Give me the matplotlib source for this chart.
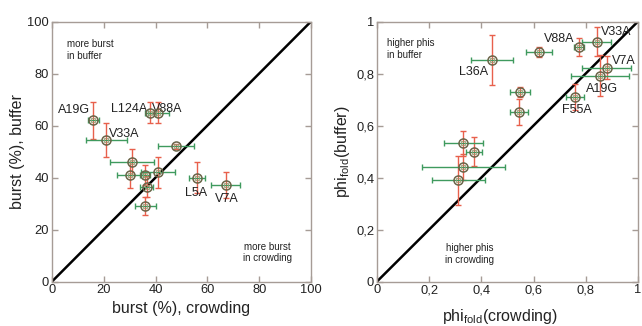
import matplotlib
matplotlib.use("Agg")
import matplotlib.pyplot as plt
import numpy as np

plt.rcParams['font.family'] = ['Liberation Sans', 'DejaVu Sans']
plt.rcParams['mathtext.fontset'] = 'custom'
plt.rcParams['mathtext.rm'] = 'Liberation Sans'
plt.rcParams['mathtext.it'] = 'Liberation Sans'

# ---- Left panel data: burst (%) ----
burst_crowd = [16, 21, 38, 41, 48, 31, 30, 36, 41, 36.5, 36, 56, 67]
burst_crowd_err = [2, 8, 2, 4, 7, 8.5, 5, 2, 6.5, 2.5, 4, 3, 5.5]
burst_buf = [62, 54.5, 65, 65, 52, 46, 41, 41, 42, 36.5, 29, 40, 37]
burst_buf_err = [7, 6.5, 4, 4, 1, 5, 5, 4, 6, 4, 3.5, 6, 5]
burst_labels = ["A19G", "V33A", "L124A", "V88A", "L5A", "V7A"]
burst_label_pos = [(8.5, 66), (28, 56.8), (29.7, 66.3), (44.6, 66.3), (55.8, 34), (67.4, 31.7)]

# ---- Right panel data: phi_fold ----
phi_crowd = [0.44, 0.62, 0.774, 0.842, 0.88, 0.854, 0.759, 0.548, 0.544, 0.331, 0.372, 0.331, 0.312]
phi_crowd_err = [0.08, 0.05, 0.02, 0.055, 0.095, 0.11, 0.035, 0.04, 0.035, 0.075, 0.03, 0.16, 0.1]
phi_buf = [0.852, 0.882, 0.903, 0.922, 0.822, 0.792, 0.71, 0.73, 0.651, 0.532, 0.5, 0.439, 0.389]
phi_buf_err = [0.095, 0.02, 0.035, 0.055, 0.045, 0.08, 0.05, 0.02, 0.05, 0.048, 0.055, 0.05, 0.095]
phi_labels = ["L36A", "V88A", "V33A", "V7A", "A19G", "F55A"]
phi_label_pos = [(0.369, 0.807), (0.699, 0.931), (0.915, 0.961), (0.946, 0.85), (0.864, 0.74), (0.765, 0.66)]

left_ticks = [0, 20, 40, 60, 80, 100]
right_ticks = [0, 0.2, 0.4, 0.6, 0.8, 1.0]
right_ticklabels = ["0", "0,2", "0,4", "0,6", "0,8", "1"]

spine_col = "#a69c96"
red = "#e8604c"
green = "#3f9a5e"
circ = "#6a6448"
txt = "#222222"

fig = plt.figure(figsize=(6.42, 3.26), dpi=100)
axL = fig.add_axes([0.081, 0.1365, 0.4034, 0.7975])
axR = fig.add_axes([0.5872, 0.1365, 0.4065, 0.7975])


def style(ax):
    for s in ax.spines.values():
        s.set_color(spine_col)
        s.set_linewidth(1.0)
    ax.tick_params(direction='in', length=4, width=1, color=spine_col,
                   top=True, right=True, labelsize=9.3, labelcolor=txt, pad=2)


def draw(ax, x, xe, y, ye, lim):
    ax.plot([0, lim], [0, lim], color='black', lw=1.8, zorder=2)
    ax.errorbar(x, y, yerr=ye, fmt='none', ecolor=red, elinewidth=1.0,
                capsize=2, capthick=1.0, zorder=3)
    ax.errorbar(x, y, xerr=xe, fmt='none', ecolor=green, elinewidth=1.0,
                capsize=2, capthick=1.0, zorder=3)
    ax.plot(x, y, 'o', ms=6.5, mfc='none', mec=circ, mew=1.1, zorder=4)
    ax.plot(x, y, 's', ms=2.2, mfc='none', mec='#9a9a70', mew=0.6, zorder=4)


# Left
style(axL)
draw(axL, burst_crowd, burst_crowd_err, burst_buf, burst_buf_err, 100)
axL.set_xlim(0, 100)
axL.set_ylim(0, 100)
axL.set_xticks(left_ticks)
axL.set_yticks(left_ticks)
for lab, (px, py) in zip(burst_labels, burst_label_pos):
    axL.text(px, py, lab, ha='center', va='center', fontsize=9, color=txt)
axL.text(5.7, 89, "more burst\nin buffer", ha='left', va='center', fontsize=7,
         color=txt, linespacing=1.2)
axL.text(83.2, 11.2, "more burst\nin crowding", ha='center', va='center', fontsize=7,
         color=txt, linespacing=1.2)
axL.set_xlabel("burst (%), crowding", fontsize=11.5, color=txt)
axL.set_ylabel("burst (%), buffer", fontsize=11.5, color=txt)
axL.xaxis.set_label_coords(0.5, -0.075)
axL.yaxis.set_label_coords(-0.105, 0.5)

# Right
style(axR)
draw(axR, phi_crowd, phi_crowd_err, phi_buf, phi_buf_err, 1.0)
axR.set_xlim(0, 1)
axR.set_ylim(0, 1)
axR.set_xticks(right_ticks)
axR.set_xticklabels(right_ticklabels)
axR.set_yticks(right_ticks)
axR.set_yticklabels(right_ticklabels)
for lab, (px, py) in zip(phi_labels, phi_label_pos):
    axR.text(px, py, lab, ha='center', va='center', fontsize=9, color=txt)
axR.text(0.037, 0.894, "higher phis\nin buffer", ha='left', va='center', fontsize=7,
         color=txt, linespacing=1.2)
axR.text(0.356, 0.105, "higher phis\nin crowding", ha='center', va='center', fontsize=7,
         color=txt, linespacing=1.2)
axR.set_xlabel(r"phi$_{\mathregular{fold}}$(crowding)", fontsize=11.5, color=txt)
axR.set_ylabel(r"phi$_{\mathregular{fold}}$(buffer)", fontsize=11.5, color=txt)
axR.xaxis.set_label_coords(0.47, -0.098)
axR.yaxis.set_label_coords(-0.095, 0.5)

fig.savefig("out.png", dpi=100)
